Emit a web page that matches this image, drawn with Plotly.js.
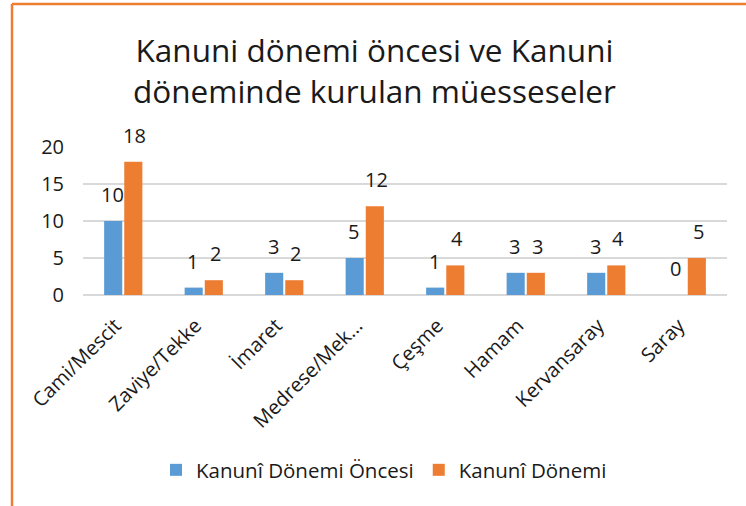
<!DOCTYPE html>
<html>
<head>
<meta charset="utf-8">
<script src="https://cdn.plot.ly/plotly-3.0.1.min.js"></script>
<style>
  html, body { margin: 0; padding: 0; background: #fff; }
  #chart { width: 746px; height: 506px; }
</style>
</head>
<body>
<div id="chart"></div>
<script>
const categories = ["Cami/Mescit", "Zaviye/Tekke", "İmaret", "Medrese/Mek...", "Çeşme", "Hamam", "Kervansaray", "Saray"];
const seriesNames = ["Kanunî Dönemi Öncesi", "Kanunî Dönemi"];
const beforeValues = [10, 1, 3, 5, 1, 3, 3, 0];
const duringValues = [18, 2, 2, 12, 4, 3, 4, 5];
const titleText = "Kanuni dönemi öncesi ve Kanuni<br>döneminde kurulan müesseseler";

const FONT = "Open Sans, Noto Sans, sans-serif";
const textColor = "#1a1a1a";
const seriesColors = ["#5B9BD5", "#ED7D31"];
const seriesValues = [beforeValues, duringValues];

const data = seriesValues.map((vals, i) => ({
  type: "bar",
  name: seriesNames[i],
  x: categories,
  y: vals,
  marker: { color: seriesColors[i] },
  hoverinfo: "none"
}));

// value labels above each bar, positioned via axis coords
const labelShift = [-11, 11.5];
const annotations = [];
seriesValues.forEach((vals, i) => {
  vals.forEach((v, j) => {
    annotations.push({
      xref: "x", yref: "y",
      x: categories[j], y: v,
      xshift: labelShift[i], yshift: 11,
      text: String(v),
      showarrow: false,
      xanchor: "center", yanchor: "bottom",
      font: { family: FONT, size: 20, color: textColor }
    });
  });
});

// plot area: x 83..727, y 147..295
const L = 83, R = 746 - 727, T = 147, B = 506 - 295;
const pw = 746 - L - R, ph = 506 - T - B;
const px = v => (v - L) / pw;
const py = v => (506 - B - v) / ph;

const layout = {
  width: 746,
  height: 506,
  margin: { l: L, r: R, t: T, b: B, pad: 0 },
  paper_bgcolor: "#ffffff",
  plot_bgcolor: "#ffffff",
  font: { family: FONT, color: textColor },
  title: {
    text: titleText,
    font: { family: FONT, size: 31.5, color: textColor },
    x: 0.502,
    xanchor: "center",
    xref: "container",
    y: 1 - 62 / 506,
    yanchor: "middle",
    yref: "container"
  },
  barmode: "group",
  bargap: 0.5,
  bargroupgap: 0.1,
  showlegend: true,
  legend: {
    orientation: "h",
    x: px(384),
    xanchor: "center",
    y: py(470),
    yanchor: "middle",
    font: { family: FONT, size: 20.5, color: textColor },
    itemclick: false
  },
  annotations: annotations,
  xaxis: {
    type: "category",
    tickangle: -45,
    tickfont: { family: FONT, size: 20, color: textColor },
    ticklabelstandoff: 14,
    ticklabelshift: -8,
    showgrid: false,
    showline: false,
    ticks: "",
    zeroline: false,
    fixedrange: true
  },
  yaxis: {
    range: [0, 20],
    dtick: 5,
    tick0: 0,
    showgrid: true,
    gridcolor: "#D9D9D9",
    gridwidth: 1.5,
    zeroline: true,
    zerolinecolor: "#D9D9D9",
    zerolinewidth: 1.5,
    showline: false,
    ticks: "",
    ticklabelstandoff: 18,
    tickfont: { family: FONT, size: 20, color: textColor },
    fixedrange: true
  },
  shapes: [
    { type: "line", xref: "paper", yref: "paper", x0: px(12), x1: px(746), y0: py(4), y1: py(4),
      line: { color: "#ED7D31", width: 2.5 } },
    { type: "line", xref: "paper", yref: "paper", x0: px(12), x1: px(12), y0: py(4), y1: py(506),
      line: { color: "#ED7D31", width: 2.5 } }
  ]
};

Plotly.newPlot("chart", data, layout, { displayModeBar: false, staticPlot: true });
</script>
</body>
</html>
